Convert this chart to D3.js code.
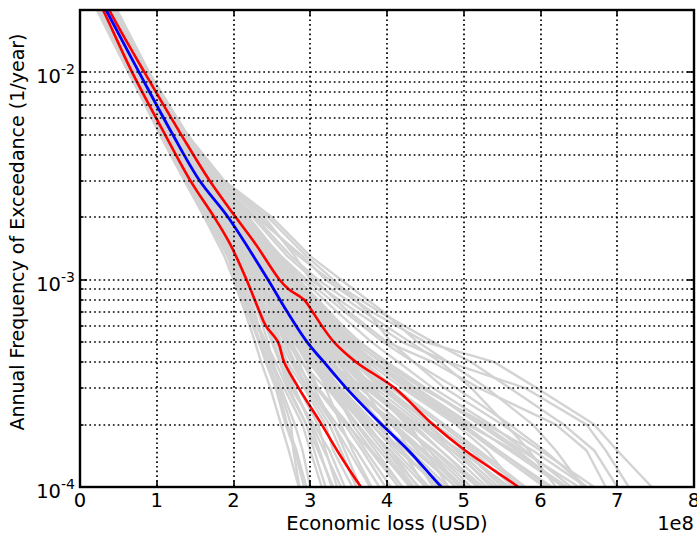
<!DOCTYPE html>
<html>
<head>
<meta charset="utf-8">
<script src="https://cdn.jsdelivr.net/npm/d3@7/dist/d3.min.js"></script>
<style>
body{margin:0;background:#fff;}
svg{display:block;font-family:"DejaVu Sans",sans-serif;}
</style>
</head>
<body>
<svg id="chart" width="697" height="536"></svg>
<script>
// Frequency levels (1/year) at which the simulated curves are sampled
const levels = [3e-2,1e-2,5e-3,3e-3,2e-3,1.3e-3,1e-3,7e-4,5e-4,4e-4,3e-4,2e-4,1.5e-4,1e-4,7e-5];
// Economic loss (x 1e8 USD) of each simulated curve at those levels
const greyCurves = [
 [-0.02,0.63,1.06,1.38,1.64,1.92,2.03,2.18,2.33,2.42,2.55,2.68,2.80,2.92,3.05],
 [0.02,0.66,1.10,1.40,1.70,1.98,2.10,2.22,2.40,2.52,2.60,2.75,2.78,2.86,3.10],
 [0.05,0.68,1.12,1.45,1.74,2.02,2.15,2.32,2.45,2.50,2.66,2.90,3.00,3.15,3.40],
 [0.00,0.70,1.15,1.48,1.78,2.08,2.22,2.38,2.52,2.62,2.75,3.05,3.25,3.45,3.70],
 [0.06,0.71,1.14,1.50,1.82,2.10,2.26,2.45,2.60,2.70,2.92,3.20,3.30,3.55,3.90],
 [0.08,0.72,1.17,1.52,1.85,2.14,2.30,2.50,2.72,2.85,3.00,3.35,3.60,3.90,4.20],
 [0.04,0.73,1.18,1.53,1.88,2.18,2.35,2.58,2.80,2.95,3.10,3.50,3.72,4.05,4.40],
 [0.10,0.74,1.19,1.55,1.90,2.20,2.40,2.62,2.85,3.05,3.25,3.62,3.90,4.30,4.60],
 [0.09,0.75,1.20,1.57,1.92,2.24,2.42,2.68,2.92,3.12,3.38,3.80,4.10,4.55,4.90],
 [0.12,0.76,1.22,1.58,1.94,2.26,2.46,2.72,3.00,3.20,3.45,3.95,4.25,4.75,5.10],
 [0.11,0.77,1.21,1.59,1.96,2.28,2.50,2.78,3.05,3.28,3.55,4.05,4.40,4.90,5.30],
 [0.13,0.78,1.24,1.60,1.98,2.32,2.52,2.82,3.10,3.35,3.65,4.20,4.55,5.05,5.40],
 [0.14,0.79,1.25,1.62,2.00,2.34,2.55,2.88,3.18,3.42,3.75,4.35,4.70,5.20,5.60],
 [0.15,0.80,1.26,1.64,2.02,2.38,2.60,2.92,3.25,3.50,3.85,4.45,4.85,5.40,5.80],
 [0.16,0.81,1.28,1.66,2.05,2.42,2.65,3.00,3.32,3.60,3.95,4.60,5.00,5.55,6.00],
 [0.18,0.83,1.30,1.68,2.08,2.45,2.70,3.05,3.40,3.70,4.10,4.75,5.20,5.80,6.20],
 [0.20,0.85,1.33,1.72,2.12,2.50,2.75,3.12,3.50,3.82,4.25,4.95,5.40,6.05,6.50],
 [0.22,0.88,1.36,1.76,2.16,2.55,2.80,3.20,3.58,3.92,4.38,5.10,5.60,6.30,6.80],
 [0.24,0.90,1.40,1.80,2.20,2.60,2.85,3.25,3.62,4.00,4.50,5.25,5.75,6.50,7.00],
 [0.20,0.86,1.38,1.85,2.40,2.80,3.00,3.60,4.20,4.80,5.80,6.60,6.85,7.15,7.60],
 [0.18,0.84,1.34,1.78,2.30,2.90,3.20,3.80,4.50,5.40,5.95,6.70,7.00,7.45,7.90],
 [0.15,0.82,1.30,1.74,2.25,2.70,3.05,3.50,4.00,4.60,5.20,6.20,6.60,6.85,7.20],
 [0.07,0.74,1.16,1.58,1.86,2.12,2.28,2.55,2.70,2.88,3.20,3.40,3.55,3.80,4.10],
 [0.03,0.69,1.13,1.46,1.80,2.16,2.38,2.65,2.95,3.10,3.30,3.55,3.80,4.20,4.50],
 [0.10,0.77,1.23,1.54,1.89,2.22,2.44,2.60,2.78,3.00,3.40,3.70,4.05,4.40,4.80],
 [0.12,0.79,1.27,1.63,1.97,2.30,2.48,2.75,2.98,3.15,3.50,4.10,4.30,4.60,5.00],
 [0.14,0.80,1.24,1.61,2.04,2.40,2.62,2.96,3.30,3.55,3.80,4.30,4.50,4.80,5.20],
 [0.09,0.75,1.19,1.56,1.91,2.25,2.58,2.90,3.20,3.45,3.70,4.00,4.20,4.50,4.90],
 [0.06,0.72,1.18,1.51,1.84,2.19,2.36,2.52,2.68,2.80,3.05,3.30,3.45,3.65,3.95],
 [0.16,0.82,1.29,1.67,2.06,2.44,2.66,3.02,3.45,3.75,4.20,4.90,5.30,5.70,6.10],
 [0.05,0.70,1.15,1.49,1.79,2.06,2.24,2.42,2.58,2.68,2.85,3.10,3.20,3.35,3.60],
 [0.13,0.78,1.22,1.59,1.95,2.27,2.53,2.85,3.15,3.38,3.60,3.90,4.15,4.70,5.00],
 [0.17,0.84,1.31,1.70,2.10,2.47,2.72,3.10,3.48,3.80,4.30,5.00,5.45,6.15,6.60],
 [0.11,0.76,1.21,1.57,1.93,2.28,2.47,2.70,2.90,3.10,3.50,4.15,4.60,5.10,5.50],
 [0.01,0.67,1.09,1.42,1.72,2.00,2.12,2.28,2.38,2.48,2.62,2.80,2.90,3.00,3.20],
 [0.19,0.86,1.35,1.74,2.14,2.52,2.78,3.15,3.55,3.95,4.45,5.30,5.90,6.60,7.10],
 [0.08,0.73,1.17,1.54,1.87,2.20,2.40,2.64,2.88,3.08,3.35,3.75,4.00,4.35,4.70],
 [0.21,0.87,1.37,1.78,2.18,2.58,2.82,3.18,3.52,3.85,4.35,5.05,5.65,6.35,6.90],
 [0.04,0.71,1.16,1.50,1.83,2.13,2.32,2.48,2.62,2.75,2.95,3.25,3.40,3.60,3.85],
 [0.12,0.78,1.26,1.65,2.01,2.36,2.56,2.86,3.12,3.30,3.58,4.05,4.45,4.95,5.35],
 [0.00,0.64,1.04,1.36,1.62,1.88,2.00,2.15,2.28,2.36,2.48,2.62,2.72,2.85,3.00],
 [0.03,0.67,1.08,1.41,1.68,1.95,2.06,2.20,2.35,2.45,2.58,2.70,2.82,2.95,3.15],
 [0.07,0.71,1.13,1.47,1.76,2.05,2.18,2.35,2.50,2.60,2.72,2.95,3.10,3.30,3.55],
 [0.09,0.74,1.18,1.53,1.86,2.17,2.34,2.56,2.75,2.90,3.08,3.45,3.68,3.98,4.30],
 [0.11,0.76,1.21,1.58,1.95,2.30,2.50,2.80,3.08,3.30,3.58,4.10,4.48,5.00,5.40],
 [0.13,0.79,1.25,1.63,2.03,2.40,2.63,2.98,3.35,3.65,4.05,4.70,5.15,5.75,6.20],
 [0.17,0.83,1.32,1.73,2.15,2.62,2.95,3.45,3.95,4.35,4.90,5.60,6.05,6.60,7.10],
 [0.19,0.86,1.37,1.82,2.35,2.85,3.25,3.90,4.60,5.10,5.60,6.30,6.70,7.00,7.40],
 [0.21,0.88,1.40,1.88,2.50,3.00,3.40,3.95,4.40,4.80,5.30,5.90,6.20,6.55,6.90],
 [0.16,0.83,1.31,1.76,2.28,2.75,3.10,3.70,4.30,4.70,5.10,5.55,5.85,6.20,6.60],
 [0.10,0.75,1.20,1.56,1.90,2.24,2.45,2.76,3.10,3.40,3.90,4.60,5.00,5.50,6.00],
 [0.08,0.73,1.17,1.53,1.88,2.22,2.43,2.72,2.98,3.25,3.70,4.40,4.95,5.60,6.10],
 [0.12,0.77,1.23,1.61,1.99,2.35,2.58,2.90,3.22,3.48,3.82,4.25,4.55,4.95,5.30],
 [0.14,0.80,1.27,1.66,2.06,2.46,2.72,3.08,3.42,3.70,4.00,4.55,4.90,5.35,5.80],
 [0.05,0.70,1.14,1.49,1.82,2.14,2.32,2.55,2.80,2.98,3.25,3.70,4.05,4.50,4.90],
 [0.06,0.72,1.16,1.52,1.85,2.18,2.38,2.62,2.86,3.02,3.22,3.60,3.85,4.20,4.60],
 [0.02,0.68,1.11,1.44,1.75,2.04,2.20,2.40,2.56,2.66,2.80,3.00,3.12,3.28,3.50],
 [0.04,0.69,1.12,1.46,1.78,2.10,2.28,2.50,2.66,2.78,2.98,3.30,3.50,3.78,4.10],
 [0.09,0.75,1.20,1.57,1.93,2.27,2.48,2.74,2.96,3.12,3.32,3.68,3.95,4.32,4.70],
 [0.15,0.81,1.29,1.69,2.10,2.50,2.76,3.14,3.52,3.85,4.28,4.98,5.45,6.10,6.60],
 [0.11,0.77,1.22,1.60,1.96,2.31,2.54,2.86,3.16,3.40,3.72,4.30,4.70,5.25,5.70],
 [0.13,0.78,1.24,1.62,2.00,2.37,2.60,2.94,3.28,3.56,3.92,4.50,4.92,5.45,5.90],
 [0.07,0.73,1.17,1.53,1.87,2.21,2.41,2.66,2.88,3.05,3.30,3.72,4.00,4.42,4.80],
 [0.10,0.76,1.21,1.58,1.94,2.29,2.51,2.80,3.06,3.26,3.52,3.95,4.30,4.80,5.20],
 [0.18,0.85,1.34,1.75,2.18,2.60,2.90,3.35,3.80,4.15,4.60,5.35,5.80,6.40,6.90],
 [0.03,0.68,1.10,1.43,1.73,2.03,2.18,2.36,2.52,2.62,2.78,3.02,3.18,3.40,3.70],
 [0.12,0.78,1.23,1.61,1.98,2.33,2.56,2.88,3.20,3.44,3.78,4.40,4.80,5.30,5.70],
 [0.08,0.74,1.18,1.54,1.89,2.23,2.44,2.70,2.93,3.12,3.40,3.85,4.20,4.65,5.05],
 [0.20,0.87,1.39,1.84,2.45,2.95,3.30,3.75,4.05,4.35,4.75,5.50,6.00,6.70,7.20],
 [0.06,0.71,1.15,1.50,1.83,2.15,2.34,2.58,2.82,3.00,3.28,3.80,4.15,4.70,5.10],
 [0.14,0.80,1.26,1.65,2.04,2.42,2.66,3.00,3.36,3.62,3.98,4.62,5.10,5.65,6.10],
 [0.01,0.66,1.07,1.39,1.66,1.94,2.08,2.25,2.42,2.55,2.70,2.95,3.05,3.20,3.45],
 [0.09,0.74,1.19,1.55,1.90,2.25,2.47,2.78,3.02,3.22,3.48,3.92,4.35,4.90,5.30],
 [0.16,0.82,1.30,1.71,2.12,2.52,2.80,3.22,3.65,4.00,4.50,5.20,5.70,6.30,6.80],
 [0.11,0.76,1.22,1.59,1.96,2.32,2.55,2.84,3.12,3.36,3.66,4.18,4.62,5.18,5.60],
 [0.05,0.70,1.13,1.48,1.81,2.12,2.30,2.52,2.74,2.90,3.10,3.48,3.78,4.15,4.55]
];
// Mean curve: [loss x1e8, frequency]
const meanCurve = [[0.10,3e-2],[0.34,2e-2],[0.77,1e-2],[1.21,5e-3],[1.56,3e-3],[1.93,2e-3],[2.45,1e-3],[2.70,7e-4],[2.96,5e-4],[3.18,4e-4],[3.47,3e-4],[3.93,2e-4],[4.28,1.5e-4],[4.71,1e-4],[4.85,9e-5]];
// Upper percentile curve
const upperCurve = [[0.15,3e-2],[0.38,2e-2],[0.84,1e-2],[1.32,5e-3],[1.69,3e-3],[2.03,2e-3],[2.28,1.5e-3],[2.60,1e-3],[2.72,9e-4],[2.92,8e-4],[3.03,7e-4],[3.15,6e-4],[3.31,5e-4],[3.60,4e-4],[4.10,3e-4],[4.60,2e-4],[5.02,1.5e-4],[5.40,1.2e-4],[5.71,1e-4],[5.85,9e-5]];
// Lower percentile curve
const lowerCurve = [[0.06,3e-2],[0.30,2e-2],[0.68,1e-2],[1.11,5e-3],[1.44,3e-3],[1.75,2e-3],[1.95,1.5e-3],[2.17,1e-3],[2.34,7e-4],[2.42,6e-4],[2.58,5e-4],[2.66,4e-4],[2.85,3e-4],[3.15,2e-4],[3.35,1.5e-4],[3.66,1e-4],[3.75,9e-5]];

const xTicks = [0,1,2,3,4,5,6,7,8];
const yMajor = [1e-4,1e-3,1e-2];
const yExp = ["-4","-3","-2"];

const L = 80, R = 694, T = 10, B = 487;
const x = d3.scaleLinear().domain([0,8]).range([L,R]);
const y = d3.scaleLog().domain([1e-4,2e-2]).range([B,T]);

const svg = d3.select("#chart");
svg.append("defs").append("clipPath").attr("id","clip")
  .append("rect").attr("x",L).attr("y",T).attr("width",R-L).attr("height",B-T);

const plot = svg.append("g").attr("clip-path","url(#clip)");
const line = d3.line().x(d=>x(d[0])).y(d=>y(d[1]));
const smooth = d3.line().x(d=>x(d[0])).y(d=>y(d[1])).curve(d3.curveCatmullRom.alpha(0.5));

plot.selectAll("path.grey").data(greyCurves).enter().append("path")
  .attr("class","grey")
  .attr("d", c => line(c.map((v,i)=>[v, levels[i]])))
  .attr("fill","none").attr("stroke","#d3d3d3").attr("stroke-width",2.4).attr("stroke-linejoin","round");

[[lowerCurve,"#ff0000",2.6],[upperCurve,"#ff0000",2.6],[meanCurve,"#0000ff",2.8]].forEach(([c,col,w])=>{
  plot.append("path").attr("d",smooth(c)).attr("fill","none").attr("stroke",col).attr("stroke-width",w).attr("stroke-linejoin","round");
});

// minor/major y grid values
const yGrid = [];
for (let e=-4; e<=-2; e++) for (let m=1; m<=9; m++) { const v = m*Math.pow(10,e); if (v<=2e-2+1e-12) yGrid.push(v); }

// grid (drawn on top, like matplotlib)
const gridG = svg.append("g").attr("stroke","#000").attr("stroke-width",1.7).attr("stroke-dasharray","1.7,3");
gridG.selectAll("line.gy").data(yGrid).enter().append("line")
  .attr("x1",L).attr("x2",R).attr("y1",d=>Math.round(y(d))).attr("y2",d=>Math.round(y(d)));
gridG.selectAll("line.gx").data(xTicks).enter().append("line")
  .attr("y1",T).attr("y2",B).attr("x1",d=>Math.round(x(d))).attr("x2",d=>Math.round(x(d)));

// ticks inside on all sides
const tk = svg.append("g").attr("stroke","#000").attr("stroke-width",1.6);
xTicks.forEach(v=>{
  const px = Math.round(x(v));
  tk.append("line").attr("x1",px).attr("x2",px).attr("y1",B).attr("y2",B-6);
  tk.append("line").attr("x1",px).attr("x2",px).attr("y1",T).attr("y2",T+6);
});
yGrid.forEach(v=>{
  const len = yMajor.includes(v) ? 7 : 3.5;
  const py = Math.round(y(v));
  tk.append("line").attr("x1",L).attr("x2",L+len).attr("y1",py).attr("y2",py);
  tk.append("line").attr("x1",R).attr("x2",R-len).attr("y1",py).attr("y2",py);
});

// frame
svg.append("rect").attr("x",L).attr("y",T).attr("width",R-L).attr("height",B-T)
  .attr("fill","none").attr("stroke","#000").attr("stroke-width",2.4);

// x tick labels
svg.selectAll("text.xt").data(xTicks).enter().append("text")
  .attr("x",d=>x(d)).attr("y",507).attr("text-anchor","middle")
  .attr("font-size",19.5).attr("fill","#000").text(d=>d);

// y tick labels
yMajor.forEach((v,i)=>{
  const t = svg.append("text").attr("x",75).attr("y",y(v)+11).attr("text-anchor","end").attr("font-size",19.5).attr("fill","#000");
  t.append("tspan").text("10");
  t.append("tspan").attr("font-size",14).attr("dy",-9).text(yExp[i]);
});

svg.append("text").attr("x",387).attr("y",530).attr("text-anchor","middle").attr("font-size",19.5).attr("fill","#000").text("Economic loss (USD)");
svg.append("text").attr("x",694).attr("y",530).attr("text-anchor","end").attr("font-size",19.5).attr("fill","#000").text("1e8");
svg.append("text").attr("transform","translate(24,232) rotate(-90)").attr("text-anchor","middle").attr("font-size",19).attr("fill","#000").text("Annual Frequency of Exceedance (1/year)");
</script>
</body>
</html>
